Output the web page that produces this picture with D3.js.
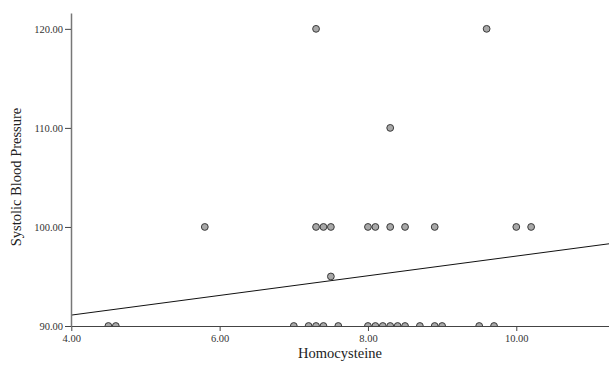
<!DOCTYPE html>
<html><head><meta charset="utf-8">
<script src="https://cdn.jsdelivr.net/npm/d3@7"></script>
<style>body{margin:0;background:#fff}svg{display:block}</style>
</head><body>
<script>
const homocysteine = [4.5,4.6,7.0,7.2,7.3,7.4,7.6,8.0,8.1,8.2,8.3,8.4,8.5,8.7,8.9,9.0,9.5,9.7,
  7.5,
  5.8,7.3,7.4,7.5,8.0,8.1,8.3,8.5,8.9,10.0,10.2,
  8.3,
  7.3,9.6];
const systolic = [90,90,90,90,90,90,90,90,90,90,90,90,90,90,90,90,90,90,
  95,
  100,100,100,100,100,100,100,100,100,100,100,
  110,
  120,120];
const xTicks = [4,6,8,10];
const yTicks = [90,100,110,120];
const fitLine = [[4.0,91.1],[11.25,98.3]];

const W=609,H=366;
const svg=d3.select("body").append("svg").attr("width",W).attr("height",H);
const x=d3.scaleLinear().domain([4,11.25]).range([71.3,609]);
const y=d3.scaleLinear().domain([90,121.6]).range([326,13]);
const font="'Liberation Serif', 'DejaVu Serif', serif";

svg.append("defs").append("clipPath").attr("id","clip")
  .append("rect").attr("x",71).attr("y",0).attr("width",W-71).attr("height",326);

const g=svg.append("g").attr("clip-path","url(#clip)");
g.append("path").datum(fitLine)
  .attr("d",d3.line().x(d=>x(d[0])).y(d=>y(d[1])))
  .attr("stroke","#111").attr("stroke-width",1).attr("fill","none");
g.selectAll("circle").data(homocysteine.map((h,i)=>[h,systolic[i]])).join("circle")
  .attr("cx",d=>x(d[0])).attr("cy",d=>y(d[1])).attr("r",3.4)
  .attr("fill","#a8a8a8").attr("stroke","#3a3a3a").attr("stroke-width",1);

const xa=svg.append("g").attr("transform","translate(0,326)")
  .call(d3.axisBottom(x).tickValues(xTicks).tickFormat(d3.format(".2f")).tickSize(5).tickSizeOuter(0));
xa.select(".domain").attr("stroke","#444");
xa.selectAll(".tick line").attr("stroke","#444");
xa.selectAll("text").attr("font-family",font).attr("font-size",10.5).attr("fill","#333").attr("dy","0.75em").attr("y",8);

const ya=svg.append("g").attr("transform","translate(71,0)")
  .call(d3.axisLeft(y).tickValues(yTicks).tickFormat(d3.format(".2f")).tickSize(6).tickSizeOuter(0));
ya.select(".domain").attr("stroke","#777").attr("stroke-width",1.5);
ya.selectAll(".tick line").attr("stroke","#444");
ya.selectAll("text").attr("font-family",font).attr("font-size",10.5).attr("fill","#333").attr("x",-8);

svg.append("text").attr("x",340).attr("y",358).attr("text-anchor","middle")
  .attr("font-family",font).attr("font-size",14.5).attr("fill","#222").text("Homocysteine");
svg.append("text").attr("transform","translate(21,177) rotate(-90)").attr("text-anchor","middle")
  .attr("font-family",font).attr("font-size",14.5).attr("fill","#222").text("Systolic Blood Pressure");
</script>
</body></html>
